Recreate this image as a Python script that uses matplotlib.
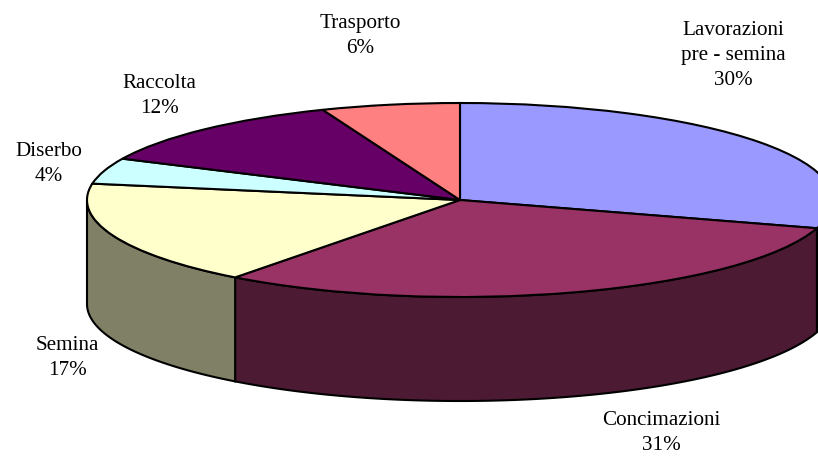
"""
Ripartizione dei costi - torta 3D disegnata con ax.pie schiacciata
"""

import numpy as np
import matplotlib
matplotlib.use('Agg')
import matplotlib.pyplot as plt

labels = ['Lavorazioni\npre - semina', 'Concimazioni', 'Semina', 'Diserbo', 'Raccolta', 'Trasporto']
# quote stimate dagli angoli delle fette, le etichette riportano i valori arrotondati
values = [29.7, 30.6, 17.4, 4.3, 12.0, 6.0]
pct_labels = ['30%', '31%', '17%', '4%', '12%', '6%']
top_colors = ['#9999FF', '#993366', '#FFFFCC', '#CCFFFF', '#660066', '#FF8080']
side_colors = ['#4D4D80', '#4D1A33', '#808066', '#668080', '#330033', '#804040']
label_pos = [(733, 55.5), (661, 433), (67, 358), (49, 164), (159, 96), (360, 36)]

W, H = 818, 457
CX, CY = 460, 200   # centro ellisse in pixel
RX, RY = 373, 97    # semiassi
DEPTH = 104 / RY    # spessore in unita' del raggio verticale

plt.rcParams['font.family'] = ['Liberation Serif', 'DejaVu Serif']

fig = plt.figure(figsize=(W / 100, H / 100), dpi=100)
ax = fig.add_axes([0, 0, 1, 1])

# bordo inferiore visibile: parti della torta tra 90 e 270 gradi orari
edges = np.cumsum([0] + values) / sum(values) * 360
for i in range(len(values)):
    a0, a1 = max(edges[i], 90), min(edges[i + 1], 270)
    if a1 <= a0:
        continue
    t = np.radians(np.linspace(a0, a1, 200))
    x = np.sin(t)
    y = np.cos(t)
    ax.fill(np.r_[x, x[::-1]], np.r_[y, y[::-1] - DEPTH], facecolor=side_colors[i],
            edgecolor='black', linewidth=1.5, zorder=1)

ax.pie(values, colors=top_colors, startangle=90, counterclock=False, radius=1,
       wedgeprops={'edgecolor': 'black', 'linewidth': 1.5, 'zorder': 2})

ax.set_aspect('auto')
ax.set_xlim(-CX / RX, (W - CX) / RX)
ax.set_ylim(-(H - CY) / RY, CY / RY)
ax.axis('off')

for i in range(len(values)):
    px, py = label_pos[i]
    ax.text(px / W, 1 - py / H, f'{labels[i]}\n{pct_labels[i]}', transform=ax.transAxes,
            ha='center', va='center', fontsize=15.2, linespacing=1.45, color='black')

fig.savefig('out.png', dpi=100)
